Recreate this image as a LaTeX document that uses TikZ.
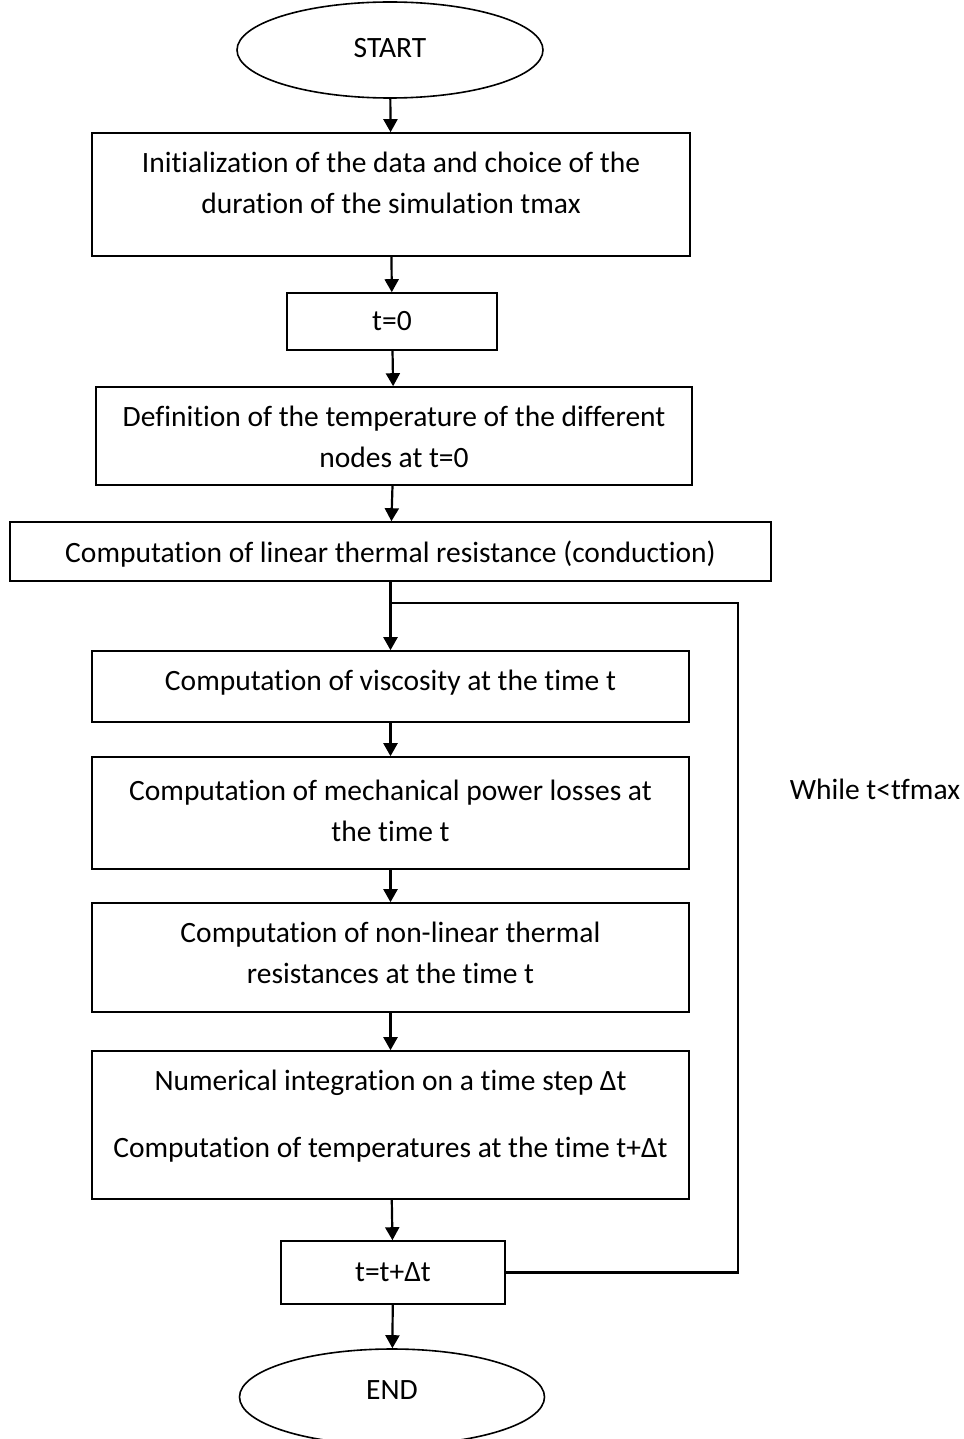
\documentclass[tikz,border=0pt]{standalone}
\usepackage{fontspec}
\setmainfont{Carlito}[Ligatures=NoCommon]
\usetikzlibrary{shapes.geometric,arrows.meta}
\begin{document}
\begin{tikzpicture}[x=1pt,y=-1pt,
  txt/.style={font=\fontsize{29.5}{41}\selectfont,align=center,inner sep=0pt},
  box/.style={draw,line width=1.6pt,rectangle,inner sep=0pt},
  oval/.style={draw,line width=1.6pt,ellipse,inner sep=0pt},
  arr/.style={line width=2.2pt,-{Triangle[width=14pt,length=13pt]}},
  line/.style={line width=2.2pt}]
\useasboundingbox (0,0) rectangle (963,1439);
\node[oval,minimum width=306pt,minimum height=96pt] (start) at (390,50) {};
\node[txt] (tstart) at (390,48) {START};
\node[box,minimum width=598pt,minimum height=123pt] (b1) at (391,194.5) {};
\node[txt] (t1) at (391,182.5) {Initialization of the data and choice of the\\duration of the simulation tmax};
\node[box,minimum width=210pt,minimum height=57pt] (b2) at (392,321.5) {};
\node[txt] (t2) at (392,321) {t=0};
\node[box,minimum width=596pt,minimum height=98pt] (b3) at (394,436) {};
\node[txt] (t3) at (394,437) {Definition of the temperature of the different\\nodes at t=0};
\node[box,minimum width=761pt,minimum height=59pt] (b4) at (390.5,551.5) {};
\node[txt] (t4) at (390.5,554) {Computation of linear thermal resistance (conduction)};
\node[box,minimum width=597pt,minimum height=71pt] (b5) at (390.5,686.5) {};
\node[txt] (t5) at (390.5,683) {Computation of viscosity at the time t};
\node[box,minimum width=597pt,minimum height=112pt] (b6) at (390.5,813) {};
\node[txt] (t6) at (390.5,810.5) {Computation of mechanical power losses at\\the time t};
\node[box,minimum width=597pt,minimum height=109pt] (b7) at (390.5,957.5) {};
\node[txt] (t7) at (390.5,952.5) {Computation of non-linear thermal\\resistances at the time t};
\node[box,minimum width=597pt,minimum height=148pt] (b8) at (390.5,1125) {};
\node[txt] (t8) at (390.5,1116.5) {Numerical integration on a time step Δt\\[26pt]Computation of temperatures at the time t+Δt};
\node[box,minimum width=224pt,minimum height=63pt] (b9) at (393,1272.5) {};
\node[txt] (t9) at (393,1272) {t=t+Δt};
\node[oval,minimum width=305pt,minimum height=96pt] (end) at (392,1397) {};
\node[txt] (tend) at (392,1390) {END};
\node[txt] (while) at (875,789) {While t<tfmax};
\coordinate (j) at (390.5,603);
\coordinate (loopc) at (738,603);
\draw[arr] (start) -- (b1);
\draw[arr] (b1) -- (b2);
\draw[arr] (b2) -- (b3);
\draw[arr] (b3) -- (b4);
\draw[arr] (b4) -- (b5);
\draw[arr] (b5) -- (b6);
\draw[arr] (b6) -- (b7);
\draw[arr] (b7) -- (b8);
\draw[arr] (b8) -- (b9);
\draw[arr] (b9) -- (end);
\draw[line] (b9.east) -| (loopc) -- (j);
\end{tikzpicture}
\end{document}
